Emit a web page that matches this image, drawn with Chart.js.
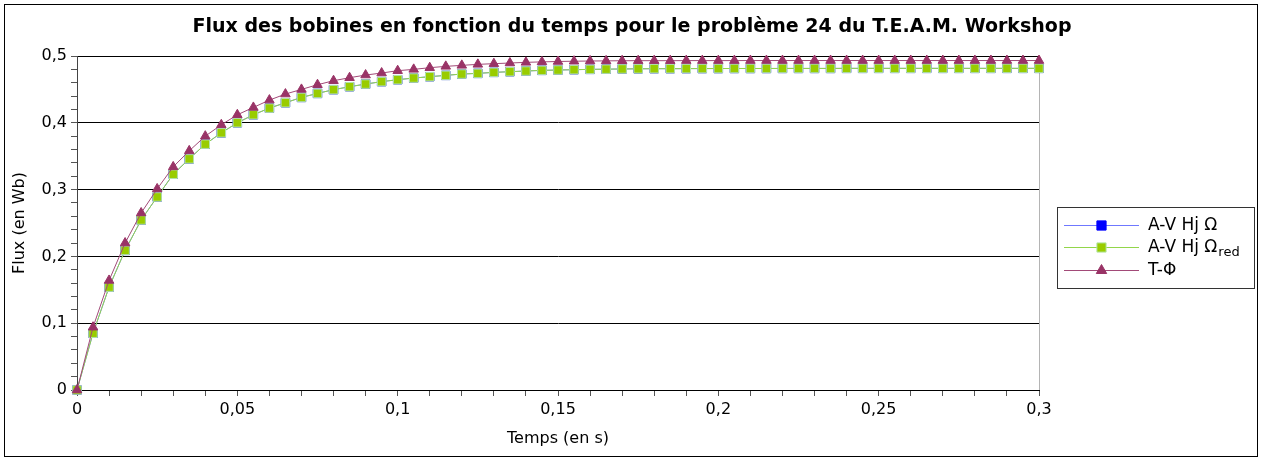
<!DOCTYPE html>
<html lang="fr">
<head>
<meta charset="utf-8">
<title>Flux des bobines</title>
<script src="https://cdn.jsdelivr.net/npm/chart.js@4/dist/chart.umd.min.js"></script>
<style>
  html, body { margin: 0; padding: 0; background: #fff; }
  #wrap { width: 1261px; height: 458px; position: relative; }
</style>
</head>
<body>
<div id="wrap"><canvas id="c" width="1261" height="458"></canvas></div>
<script>
// Temps (s)
const temps = [
  0, 0.005, 0.01, 0.015, 0.02, 0.025, 0.03, 0.035, 0.04, 0.045,
  0.05, 0.055, 0.06, 0.065, 0.07, 0.075, 0.08, 0.085, 0.09, 0.095,
  0.1, 0.105, 0.11, 0.115, 0.12, 0.125, 0.13, 0.135, 0.14, 0.145,
  0.15, 0.155, 0.16, 0.165, 0.17, 0.175, 0.18, 0.185, 0.19, 0.195,
  0.2, 0.205, 0.21, 0.215, 0.22, 0.225, 0.23, 0.235, 0.24, 0.245,
  0.25, 0.255, 0.26, 0.265, 0.27, 0.275, 0.28, 0.285, 0.29, 0.295,
  0.3
];

// Flux (Wb) — formulation A-V Hj Ω
const fluxAVOmega = [
  0, 0.085, 0.154, 0.209, 0.2545, 0.289, 0.323, 0.346, 0.368, 0.385,
  0.400, 0.412, 0.422, 0.430, 0.438, 0.444, 0.4496, 0.454, 0.458, 0.4616,
  0.4645, 0.467, 0.469, 0.471, 0.473, 0.474, 0.4755, 0.4765, 0.4775, 0.4785,
  0.479, 0.4795, 0.480, 0.4803, 0.4806, 0.4808, 0.481, 0.481, 0.4811, 0.4812,
  0.4812, 0.4813, 0.4813, 0.4813, 0.4814, 0.4814, 0.4814, 0.4814, 0.4815, 0.4815,
  0.4815, 0.4815, 0.4815, 0.4815, 0.4815, 0.4815, 0.4815, 0.4815, 0.4815, 0.4815,
  0.4815
];

// Flux (Wb) — formulation A-V Hj Ωred
const fluxAVOmegaRed = [
  0, 0.085, 0.154, 0.209, 0.2545, 0.289, 0.323, 0.346, 0.368, 0.385,
  0.400, 0.412, 0.422, 0.430, 0.438, 0.444, 0.4496, 0.454, 0.458, 0.4616,
  0.4645, 0.467, 0.469, 0.471, 0.473, 0.474, 0.4755, 0.4765, 0.4775, 0.4785,
  0.479, 0.4795, 0.480, 0.4803, 0.4806, 0.4808, 0.481, 0.481, 0.4811, 0.4812,
  0.4812, 0.4813, 0.4813, 0.4813, 0.4814, 0.4814, 0.4814, 0.4814, 0.4815, 0.4815,
  0.4815, 0.4815, 0.4815, 0.4815, 0.4815, 0.4815, 0.4815, 0.4815, 0.4815, 0.4815,
  0.4815
];

// Flux (Wb) — formulation T-Φ
const fluxTPhi = [
  0, 0.094, 0.164, 0.220, 0.265, 0.301, 0.334, 0.358, 0.380, 0.397,
  0.412, 0.423, 0.434, 0.443, 0.450, 0.457, 0.463, 0.4675, 0.4715, 0.4745,
  0.478, 0.480, 0.4825, 0.4845, 0.486, 0.4875, 0.4885, 0.4895, 0.4905, 0.4912,
  0.4918, 0.4922, 0.4925, 0.4927, 0.4929, 0.493, 0.493, 0.493, 0.4931, 0.4931,
  0.4931, 0.4931, 0.4932, 0.4932, 0.4932, 0.4932, 0.4932, 0.4932, 0.4932, 0.4932,
  0.4932, 0.4932, 0.4932, 0.4932, 0.4932, 0.4932, 0.4932, 0.4932, 0.4932, 0.4932,
  0.4932
];

const seriesNames = ['A-V Hj Ω', 'A-V Hj Ω', 'T-Φ'];
const titleText = 'Flux des bobines en fonction du temps pour le problème 24 du T.E.A.M. Workshop';
const xTitle = 'Temps (en s)';
const yTitle = 'Flux (en Wb)';

const FONT = "'DejaVu Sans', Verdana, sans-serif";
Chart.defaults.font.family = FONT;
Chart.defaults.font.size = 16;
Chart.defaults.color = '#000';

const pts = (ys) => temps.map((t, i) => ({ x: t, y: ys[i] }));
const fr = (v, d) => String(Number(v.toFixed(d))).replace('.', ',');

const styles = [
  { line: '#6f78ff', fill: '#0000ff', edge: '#0000ff', shape: 'rect', r: 6 },
  { line: '#92d64a', fill: '#99cc00', edge: '#b5e6a8', shape: 'rect', r: 6 },
  { line: '#a24a78', fill: '#993366', edge: '#993366', shape: 'triangle', r: 5.5 }
];

// Title, axis titles, legend and frame drawn on the canvas
const decor = {
  id: 'decor',
  beforeDatasetsDraw(chart) {
    const { ctx, chartArea: a } = chart;
    ctx.save();
    ctx.strokeStyle = '#b4b4b4';
    ctx.lineWidth = 1;
    ctx.beginPath();
    ctx.moveTo(Math.round(a.right) + 0.5, a.top);
    ctx.lineTo(Math.round(a.right) + 0.5, a.bottom);
    ctx.stroke();
    ctx.restore();
  },
  afterDraw(chart) {
    const { ctx, chartArea: a } = chart;
    ctx.save();
    // outer frame
    ctx.strokeStyle = '#000';
    ctx.lineWidth = 1;
    ctx.strokeRect(4.5, 4.5, 1253, 452);

    // title
    ctx.fillStyle = '#000';
    ctx.font = 'bold 19px ' + FONT;
    ctx.textAlign = 'center';
    ctx.textBaseline = 'middle';
    ctx.fillText(titleText, 632, 27);

    // axis titles
    ctx.font = '16px ' + FONT;
    ctx.fillText(xTitle, (a.left + a.right) / 2, 439);
    ctx.save();
    ctx.translate(20, (a.top + a.bottom) / 2);
    ctx.rotate(-Math.PI / 2);
    ctx.fillText(yTitle, 0, 0);
    ctx.restore();

    // legend
    const lx = 1057.5, ly = 207.5, lw = 197, lh = 81;
    ctx.fillStyle = '#fff';
    ctx.fillRect(lx, ly, lw, lh);
    ctx.strokeStyle = '#333';
    ctx.strokeRect(lx, ly, lw, lh);
    const rows = [225, 247, 270];
    rows.forEach((yy, i) => {
      const s = styles[i];
      ctx.strokeStyle = s.line;
      ctx.lineWidth = 1;
      ctx.beginPath();
      ctx.moveTo(1064, yy + 0.5);
      ctx.lineTo(1139, yy + 0.5);
      ctx.stroke();
      ctx.fillStyle = s.fill;
      ctx.strokeStyle = s.edge;
      ctx.beginPath();
      if (s.shape === 'rect') {
        const h = 4.6;
        ctx.rect(1101.5 - h, yy + 0.5 - h, 2 * h, 2 * h);
      } else {
        const r = 6;
        ctx.moveTo(1101.5, yy + 0.5 - r);
        ctx.lineTo(1101.5 + r * 0.866, yy + 0.5 + r / 2);
        ctx.lineTo(1101.5 - r * 0.866, yy + 0.5 + r / 2);
        ctx.closePath();
      }
      ctx.fill();
      ctx.stroke();

      ctx.fillStyle = '#000';
      ctx.font = '17px ' + FONT;
      ctx.textAlign = 'left';
      ctx.textBaseline = 'middle';
      ctx.fillText(seriesNames[i], 1148, yy + 1);
      if (i === 1) {
        const w = ctx.measureText(seriesNames[i]).width;
        ctx.font = '13px ' + FONT;
        ctx.fillText('red', 1148 + w + 1, yy + 6);
      }
    });
    ctx.restore();
  }
};

const mk = (ys, i, ord) => ({
  label: seriesNames[i],
  data: pts(ys),
  borderColor: styles[i].line,
  borderWidth: 1,
  backgroundColor: styles[i].fill,
  pointStyle: styles[i].shape,
  pointRadius: styles[i].r,
  pointBackgroundColor: styles[i].fill,
  pointBorderColor: styles[i].edge,
  pointBorderWidth: 1,
  tension: 0,
  clip: false,
  order: ord
});

new Chart(document.getElementById('c'), {
  type: 'line',
  data: {
    datasets: [
      mk(fluxAVOmega, 0, 3),
      mk(fluxAVOmegaRed, 1, 2),
      mk(fluxTPhi, 2, 1)
    ]
  },
  options: {
    responsive: false,
    animation: false,
    events: [],
    layout: { padding: { left: 0, right: 1261 - 1039, top: 56, bottom: 0 } },
    plugins: { legend: { display: false }, tooltip: { enabled: false }, title: { display: false } },
    scales: {
      x: {
        type: 'linear',
        min: 0, max: 0.3,
        afterFit(s) { s.height = 68; },
        afterBuildTicks(s) {
          const t = [];
          for (let k = 0; k <= 30; k++) t.push({ value: k / 100 });
          s.ticks = t;
        },
        ticks: {
          autoSkip: false, maxRotation: 0, padding: 4,
          callback: (v) => (Math.round(v * 100) % 5 === 0 ? fr(v, 2) : '')
        },
        grid: { color: 'rgba(0,0,0,0)', tickColor: '#555', tickLength: 6, drawOnChartArea: false },
        border: { color: '#000', width: 1 }
      },
      y: {
        type: 'linear',
        min: 0, max: 0.5,
        afterFit(s) { s.width = 77; },
        afterBuildTicks(s) {
          const t = [];
          for (let k = 0; k <= 25; k++) t.push({ value: k / 50 });
          s.ticks = t;
        },
        ticks: {
          autoSkip: false, padding: 4,
          callback: (v) => (Math.round(v * 50) % 5 === 0 ? fr(v, 1) : '')
        },
        grid: {
          color: (c) => (c.tick && Math.round(c.tick.value * 50) % 5 === 0 ? '#000' : 'rgba(0,0,0,0)'),
          tickColor: '#555', tickLength: 6
        },
        border: { color: '#444', width: 1 }
      }
    }
  },
  plugins: [decor]
});
</script>
</body>
</html>
